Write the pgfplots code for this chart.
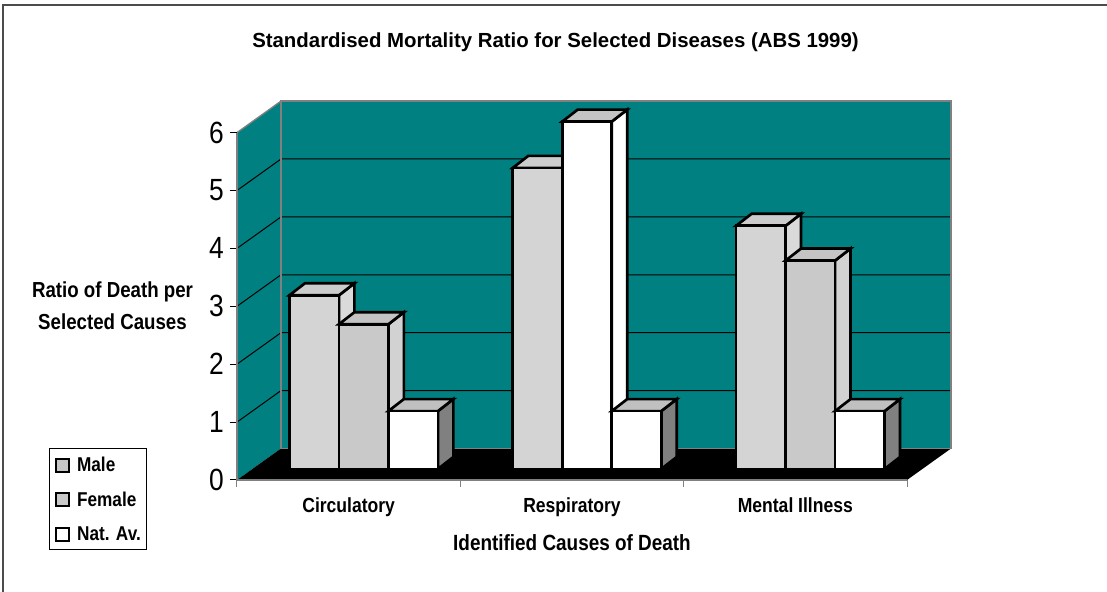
\documentclass[border=0pt]{standalone}
\usepackage{fontspec}
\setmainfont{Liberation Sans}[FakeStretch=0.86]
\newfontfamily\titlefont{Liberation Sans}
\usepackage{pgfplots}
\pgfplotsset{compat=1.18}

\definecolor{wallteal}{HTML}{008080}
\definecolor{edgegray}{HTML}{808080}
\definecolor{malefront}{HTML}{D4D4D4}
\definecolor{maleside}{HTML}{DADADA}
\definecolor{maletop}{HTML}{CCCCCC}
\definecolor{femfront}{HTML}{C9C9C9}
\definecolor{femside}{HTML}{D2D2D2}
\definecolor{femtop}{HTML}{C4C4C4}
\definecolor{avside}{HTML}{808080}
\definecolor{avtop}{HTML}{C0C0C0}

% one bar drawn as a box: right face, top face, front face
% (origin = data point on the front plane; \barxoff = sideways offset in pt)
\pgfdeclareplotmark{cuboid}{%
  \pgfmathsetmacro\bh{\barval*43.425}%
  \pgfmathsetmacro\xl{\barxoff-18.5625}%
  \pgfmathsetmacro\xr{\barxoff+18.5625}%
  \pgfmathsetmacro\xlb{\xl+11.6}%
  \pgfmathsetmacro\xrb{\xr+11.6}%
  \pgfmathsetmacro\yb{8.25-\bh}%
  \pgfmathsetmacro\ybb{\yb+9}%
  \filldraw[draw=black, line width=2pt, fill=\cside] (\xr pt,8.25pt) -- (\xr pt,\yb pt) -- (\xrb pt,\ybb pt) -- (\xrb pt,17.25pt) -- cycle;
  \filldraw[draw=black, line width=2pt, fill=\ctop] (\xl pt,8.25pt) -- (\xr pt,8.25pt) -- (\xrb pt,17.25pt) -- (\xlb pt,17.25pt) -- cycle;
  \filldraw[draw=black, line width=2pt, fill=\cfront] (\xl pt,\yb pt) rectangle (\xr pt,8.25pt);
}

\pgfplotsset{
  box bars/.style n args={4}{% x offset, front, side, top
    scatter, only marks, mark=cuboid, forget plot,
    visualization depends on={rawy \as \barval},
    visualization depends on={rawx \as \barx},
    scatter/@pre marker code/.code={\def\barxoff{#1}\def\cfront{#2}\def\cside{#3}\def\ctop{#4}},
    scatter/@post marker code/.code={},
  },
}

\begin{document}
\begin{tikzpicture}
\useasboundingbox (0,0) rectangle (830.25pt,444pt);
\draw[line width=1.5pt, black!70] (2.25pt,0pt) -- (2.25pt,440.25pt) -- (830.25pt,440.25pt);
\begin{axis}[
  at={(177.75pt,84pt)}, anchor=south west,
  x=167.5pt, y=43.425pt,
  xmin=0, xmax=3, ymin=0, ymax=6,
  clip=false, axis on top,
  axis x line*=bottom, axis y line*=left,
  axis line style={edgegray, line width=1pt},
  /pgf/number format/assume math mode=true,
  ytick={0,1,2,3,4,5,6},
  ytick align=outside, xtick align=inside,
  major tick length=5.25pt,
  y tick style={black, line width=0.75pt},
  yticklabel style={font=\fontsize{23}{23}\selectfont, anchor=east, inner sep=0pt, xshift=-4.5pt},
  xtick={0.5,1.5,2.5},
  xticklabels={Circulatory, Respiratory, Mental Illness},
  major x tick style={draw=none},
  xticklabel style={font=\fontsize{15.3}{18}\selectfont\bfseries, anchor=base, yshift=-24.75pt},
  xlabel={Identified Causes of Death},
  xlabel style={font=\fontsize{16.5}{18}\selectfont\bfseries, at={(axis description cs:0.5,-0.2017)}, anchor=base},
  ylabel={Ratio of Death per\\Selected Causes},
  ylabel style={font=\fontsize{16.3}{24}\selectfont\bfseries, align=center, rotate=-90, at={(axis description cs:-0.1858,0.503)}, anchor=center},
  every axis title shift=0pt,
  title={Standardised Mortality Ratio for Selected Diseases (ABS 1999)},
  title style={font=\titlefont\fontsize{15.3}{18}\selectfont\bfseries, at={(axis description cs:0.4754,1.245)}, anchor=base},
  legend style={at={(axis description cs:-0.2806,-0.2017)}, anchor=south west,
    draw=black, line width=0.75pt, fill=white,
    font=\fontsize{15}{15}\selectfont\bfseries,
    inner xsep=4.5pt, inner ysep=6pt, row sep=14.2pt,
    nodes={inner sep=0pt, text height=11pt, text depth=0pt},
    /tikz/every odd column/.append style={column sep=5.25pt}},
  legend cell align=left,
]
% side wall
\fill[wallteal] (axis cs:0,0) -- (axis cs:0,6) -- ([shift={(33pt,23.625pt)}]axis cs:0,6) -- ([shift={(33pt,23.625pt)}]axis cs:0,0) -- cycle;
% back wall
\fill[wallteal] ([shift={(33pt,23.625pt)}]axis cs:0,0) rectangle ([shift={(33pt,23.625pt)}]axis cs:3,6);
% floor
\fill[black] (axis cs:0,0) -- (axis cs:3,0) -- ([shift={(33pt,23.625pt)}]axis cs:3,0) -- ([shift={(33pt,23.625pt)}]axis cs:0,0) -- cycle;
% grid lines on both walls
\pgfplotsinvokeforeach{1,2,3,4,5}{
  \draw[black, line width=0.75pt] (axis cs:0,#1) -- ([shift={(33pt,23.625pt)}]axis cs:0,#1) -- ([shift={(33pt,23.625pt)}]axis cs:3,#1);
}
% wall edges
\draw[edgegray, line width=1pt] ([shift={(33pt,23.625pt)}]axis cs:0,0) rectangle ([shift={(33pt,23.625pt)}]axis cs:3,6);
\draw[edgegray, line width=1pt] (axis cs:0,6) -- ([shift={(33pt,23.625pt)}]axis cs:0,6);
% category boundary ticks
\pgfplotsinvokeforeach{0,1,2,3}{
  \draw[edgegray, line width=0.75pt] (axis cs:#1,0) -- ++(0pt,-5.25pt);
}

% Male
\addplot[box bars={-25.875}{malefront}{maleside}{maletop}]
  coordinates {(0.5,3.0) (1.5,5.2) (2.5,4.2)};
% Female
\addplot[box bars={11.25}{femfront}{femside}{femtop},
  scatter/@pre marker code/.append code={\ifdim\barx pt=1.5pt\relax\def\cfront{white}\def\cside{white}\fi}]
  coordinates {(0.5,2.5) (1.5,6.0) (2.5,3.6)};
% Nat. Av.
\addplot[box bars={48.375}{white}{avside}{avtop}]
  coordinates {(0.5,1.0) (1.5,1.0) (2.5,1.0)};

\addlegendimage{legend image code/.code={\draw[line width=1.2pt, fill=gray!45] (0pt,-5.6pt) rectangle (9.75pt,4.15pt);}}
\addlegendimage{legend image code/.code={\draw[line width=1.2pt, fill=femfront] (0pt,-5.6pt) rectangle (9.75pt,4.15pt);}}
\addlegendimage{legend image code/.code={\draw[line width=1.2pt, fill=white] (0pt,-5.6pt) rectangle (9.75pt,4.15pt);}}
\legend{Male, Female, Nat. Av.}
\end{axis}
\end{tikzpicture}
\end{document}
